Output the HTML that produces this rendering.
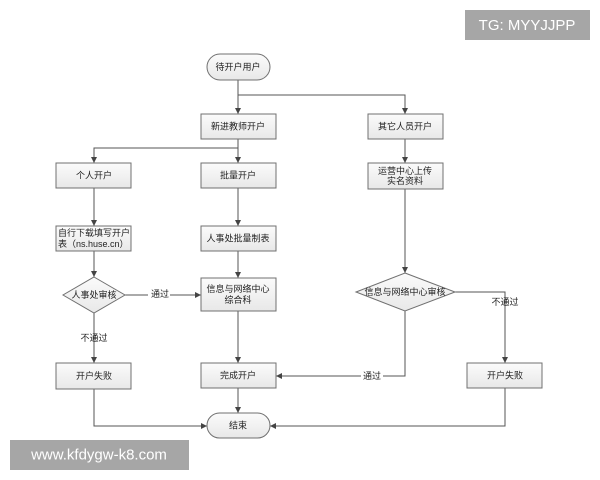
<!DOCTYPE html>
<html><head><meta charset="utf-8"><style>
html,body{margin:0;padding:0;background:#fff;width:600px;height:480px;overflow:hidden}
svg{display:block}
text{font-family:"Liberation Sans","Noto Sans CJK SC",sans-serif;font-size:9px;fill:#222;text-anchor:middle;dominant-baseline:central}
.b{fill:url(#g);stroke:#707070;stroke-width:1}
.l{stroke:#555;stroke-width:1;fill:none}
</style></head><body>
<svg width="600" height="480" viewBox="0 0 600 480">
<defs>
<linearGradient id="g" x1="0" y1="0" x2="0" y2="1"><stop offset="0" stop-color="#fbfbfb"/><stop offset="1" stop-color="#e8e8e8"/></linearGradient>
<marker id="a" markerWidth="6" markerHeight="6" refX="6" refY="3" orient="auto" markerUnits="userSpaceOnUse"><path d="M0,0L6,3L0,6z" fill="#444"/></marker>
</defs>
<!-- lines -->
<path class="l" d="M238,80V114" marker-end="url(#a)"/>
<path class="l" d="M238,95H405V114" marker-end="url(#a)"/>
<path class="l" d="M238,139V163" marker-end="url(#a)"/>
<path class="l" d="M238,148H94V163" marker-end="url(#a)"/>
<path class="l" d="M94,188V226" marker-end="url(#a)"/>
<path class="l" d="M238,188V226" marker-end="url(#a)"/>
<path class="l" d="M94,251V277" marker-end="url(#a)"/>
<path class="l" d="M238,251V278" marker-end="url(#a)"/>
<path class="l" d="M125,295H201" marker-end="url(#a)"/>
<path class="l" d="M94,313V363" marker-end="url(#a)"/>
<path class="l" d="M238,311V363" marker-end="url(#a)"/>
<path class="l" d="M94,389V426H207" marker-end="url(#a)"/>
<path class="l" d="M238,388V413" marker-end="url(#a)"/>
<path class="l" d="M405,139V163" marker-end="url(#a)"/>
<path class="l" d="M405,189V273" marker-end="url(#a)"/>
<path class="l" d="M405,311V376H276" marker-end="url(#a)"/>
<path class="l" d="M455,292H505V363" marker-end="url(#a)"/>
<path class="l" d="M505,388V426H270" marker-end="url(#a)"/>
<!-- shapes -->
<rect class="b" x="207" y="54" width="63" height="26" rx="13"/>
<text x="238" y="67">待开户用户</text>
<rect class="b" x="201" y="114" width="75" height="25"/>
<text x="238" y="126.5">新进教师开户</text>
<rect class="b" x="368" y="114" width="75" height="25"/>
<text x="405" y="126.5">其它人员开户</text>
<rect class="b" x="56" y="163" width="75" height="25"/>
<text x="94" y="175.5">个人开户</text>
<rect class="b" x="201" y="163" width="75" height="25"/>
<text x="238" y="175.5">批量开户</text>
<rect class="b" x="368" y="163" width="75" height="26"/>
<text x="405" y="171">运营中心上传</text>
<text x="405" y="181">实名资料</text>
<rect class="b" x="56" y="226" width="75" height="25"/>
<text x="58" y="233" style="text-anchor:start">自行下载填写开户</text>
<text x="58" y="244" style="text-anchor:start">表（ns.huse.cn）</text>
<rect class="b" x="201" y="226" width="75" height="25"/>
<text x="238" y="238.5">人事处批量制表</text>
<polygon class="b" points="94,277 125,295 94,313 63,295"/>
<text x="94" y="295">人事处审核</text>
<rect class="b" x="201" y="278" width="75" height="33"/>
<text x="238" y="289">信息与网络中心</text>
<text x="238" y="300">综合科</text>
<polygon class="b" points="405,273 455,292 405,311 356,292"/>
<text x="405" y="292">信息与网络中心审核</text>
<rect class="b" x="56" y="363" width="75" height="26"/>
<text x="94" y="376">开户失败</text>
<rect class="b" x="201" y="363" width="75" height="25"/>
<text x="238" y="375.5">完成开户</text>
<rect class="b" x="467" y="363" width="75" height="25"/>
<text x="505" y="375.5">开户失败</text>
<rect class="b" x="207" y="413" width="63" height="25" rx="12.5"/>
<text x="238" y="425.5">结束</text>
<!-- labels -->
<rect x="148" y="288" width="22" height="13" fill="#fff"/>
<text x="160" y="294">通过</text>
<text x="94" y="338">不通过</text>
<rect x="361" y="370" width="22" height="13" fill="#fff"/>
<text x="372" y="376">通过</text>
<text x="505" y="302" style="fill:#222">不通过</text>
<!-- watermarks -->
<rect x="465" y="10" width="125" height="30" fill="#a6a6a6"/>
<text x="527" y="25.5" style="fill:#fff;font-size:15px">TG: MYYJJPP</text>
<rect x="10" y="440" width="179" height="30" fill="#a6a6a6"/>
<text x="99" y="455" style="fill:#fff;font-size:15px">www.kfdygw-k8.com</text>
</svg>
</body></html>
